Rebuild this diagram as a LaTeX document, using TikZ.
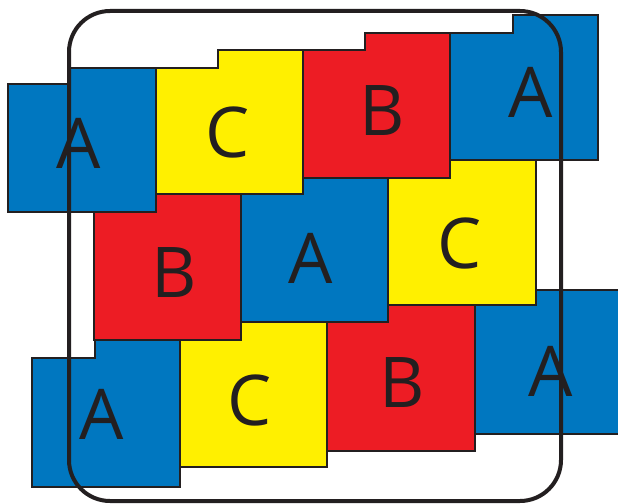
\documentclass[tikz,border=0pt]{standalone}
\usepackage{fontspec}
\setmainfont{Open Sans}
\definecolor{tblue}{HTML}{0077C0}
\definecolor{tyellow}{HTML}{FFF000}
\definecolor{tred}{HTML}{ED1C24}
\definecolor{tdark}{HTML}{231F20}
\begin{document}
\begin{tikzpicture}[x=1pt,y=-1pt,
  tile/.style={draw=tdark,line width=2pt,line join=miter},
  ta/.style={tile,fill=tblue},
  tb/.style={tile,fill=tred},
  tc/.style={tile,fill=tyellow},
  letter/.style={inner sep=0pt,text=tdark,font=\fontsize{70}{70}\selectfont},
  frame/.style={draw=tdark,line width=4pt,rounded corners=41pt}]
\useasboundingbox (0,0) rectangle (618,503);
\begin{scope}
\clip (0,0) rectangle (618,503);
% row 1
\path[ta] (8,84) -- (69,84) -- (69,68) -- (156,68) -- (156,212) -- (8,212) -- cycle;
\path[tc] (156,68) -- (218,68) -- (218,50) -- (303,50) -- (303,194) -- (156,194) -- cycle;
\path[tb] (303,50) -- (365,50) -- (365,33) -- (450,33) -- (450,178) -- (303,178) -- cycle;
\path[ta] (450,33) -- (513,33) -- (513,15) -- (598,15) -- (598,160) -- (450,160) -- cycle;
% row 2
\path[tb] (94,212) -- (156,212) -- (156,194) -- (241,194) -- (241,340) -- (94,340) -- cycle;
\path[ta] (241,194) -- (303,194) -- (303,178) -- (388,178) -- (388,322) -- (241,322) -- cycle;
\path[tc] (388,178) -- (450,178) -- (450,160) -- (536,160) -- (536,305) -- (388,305) -- cycle;
% row 3
\path[ta] (32,358) -- (95,358) -- (95,340) -- (180,340) -- (180,487) -- (32,487) -- cycle;
\path[tc] (180,340) -- (241,340) -- (241,322) -- (327,322) -- (327,467) -- (180,467) -- cycle;
\path[tb] (327,322) -- (388,322) -- (388,305) -- (475,305) -- (475,451) -- (327,451) -- cycle;
\path[ta] (475,305) -- (536,305) -- (536,290) -- (624,290) -- (624,434) -- (475,434) -- cycle;
\end{scope}
% letters
\node[letter] (a1) at (79,143) {A};
\node[letter] (c1) at (228,132) {C};
\node[letter] (b1) at (382,110.5) {B};
\node[letter] (a2) at (531,92) {A};
\node[letter] (b2) at (174,273) {B};
\node[letter] (a3) at (311,258) {A};
\node[letter] (c2) at (460,243) {C};
\node[letter] (a4) at (102,414) {A};
\node[letter] (c3) at (250,400) {C};
\node[letter] (b3) at (402,382.5) {B};
\node[letter] (a5) at (551,371.5) {A};
% frame
\path[frame] (69,11) rectangle (561,501);
\end{tikzpicture}
\end{document}
